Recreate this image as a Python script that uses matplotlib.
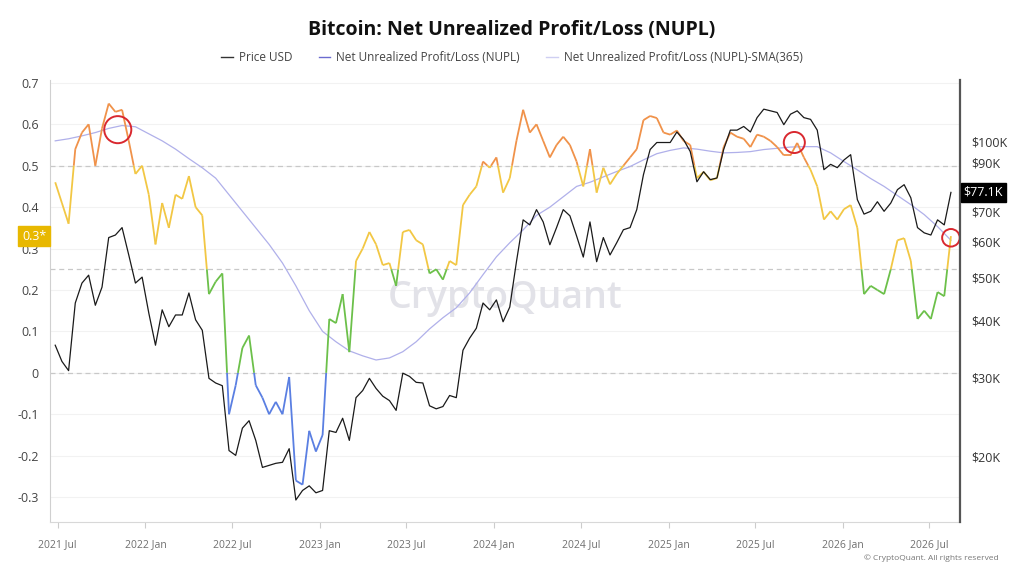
import numpy as np
import pandas as pd
import matplotlib
matplotlib.use("Agg")
import matplotlib.pyplot as plt
import matplotlib.dates as mdates
from matplotlib.collections import LineCollection
from matplotlib.lines import Line2D
from matplotlib.ticker import FixedLocator, FixedFormatter, NullLocator

plt.rcParams['font.family'] = ['Open Sans', 'DejaVu Sans']

# ---- data (14-day steps) ----
dates = pd.date_range("2021-06-26", periods=135, freq="14D")

nupl = [0.46, 0.41, 0.36, 0.54, 0.58, 0.60, 0.50, 0.59, 0.65, 0.63,
        0.635, 0.56, 0.48, 0.50, 0.43, 0.31, 0.41, 0.35, 0.43, 0.42,
        0.475, 0.40, 0.38, 0.19, 0.22, 0.24, -0.10, -0.03, 0.06, 0.09,
        -0.03, -0.06, -0.10, -0.07, -0.10, -0.01, -0.26, -0.27, -0.14, -0.19,
        -0.15, 0.13, 0.12, 0.19, 0.05, 0.27, 0.30, 0.34, 0.31, 0.26,
        0.265, 0.21, 0.34, 0.345, 0.32, 0.31, 0.24, 0.25, 0.225, 0.27,
        0.26, 0.405, 0.43, 0.45, 0.51, 0.495, 0.52, 0.435, 0.47, 0.56,
        0.635, 0.58, 0.60, 0.56, 0.52, 0.55, 0.57, 0.55, 0.51, 0.45,
        0.54, 0.435, 0.495, 0.455, 0.48, 0.50, 0.52, 0.54, 0.61, 0.62,
        0.615, 0.58, 0.575, 0.585, 0.56, 0.55, 0.47, 0.485, 0.465, 0.47,
        0.545, 0.58, 0.57, 0.565, 0.545, 0.575, 0.57, 0.56, 0.545, 0.525,
        0.525, 0.555, 0.52, 0.49, 0.45, 0.37, 0.39, 0.37, 0.395, 0.405,
        0.35, 0.19, 0.21, 0.20, 0.19, 0.25, 0.32, 0.325, 0.27, 0.13,
        0.15, 0.13, 0.195, 0.185, 0.33]

price_k = [35.3, 32.5, 31.0, 43.8, 48.5, 50.5, 43.3, 47.5, 61.2, 62.0,
           64.4, 56.0, 48.5, 50.0, 41.6, 35.3, 42.3, 38.8, 41.2, 41.2,
           46.1, 40.2, 38.1, 29.8, 29.1, 28.7, 20.6, 20.1, 23.1, 24.0,
           21.7, 18.9, 19.1, 19.3, 19.4, 20.8, 16.0, 16.8, 17.2, 16.6,
           16.8, 22.8, 22.6, 24.3, 21.7, 27.0, 28.0, 29.8, 28.3, 27.2,
           26.6, 25.3, 30.6, 30.1, 29.2, 29.1, 25.9, 25.5, 25.8, 27.3,
           27.0, 34.4, 36.6, 38.5, 43.8, 42.3, 44.5, 39.8, 42.9, 54.1,
           67.0, 65.3, 70.6, 66.3, 59.0, 64.4, 70.6, 68.4, 61.7, 55.4,
           66.3, 54.1, 61.2, 56.0, 59.6, 63.7, 64.4, 70.6, 84.4, 96.0,
           99.5, 99.5, 99.5, 105, 101, 95, 81.4, 85.7, 82.3, 83.0,
           96, 106, 106, 108, 105, 113, 118, 117, 116, 109,
           115, 117, 113, 112, 106, 86.6, 89, 87.5, 91, 93.5,
           74.3, 69, 70, 73.5, 70, 73, 78.2, 80.2, 75, 64.4,
           62.7, 62, 67, 65.3, 77.1]

sma_dates = pd.date_range("2021-06-26", periods=68, freq="28D")
sma = [0.56, 0.565, 0.572, 0.58, 0.59, 0.597, 0.594, 0.577, 0.56, 0.54,
       0.517, 0.495, 0.47, 0.43, 0.39, 0.35, 0.31, 0.265, 0.21, 0.15,
       0.10, 0.075, 0.053, 0.041, 0.031, 0.036, 0.051, 0.075, 0.106, 0.133,
       0.157, 0.193, 0.237, 0.28, 0.314, 0.345, 0.38, 0.40, 0.425, 0.45,
       0.46, 0.473, 0.486, 0.498, 0.514, 0.529, 0.537, 0.543, 0.54, 0.535,
       0.531, 0.532, 0.534, 0.539, 0.542, 0.545, 0.546, 0.546, 0.531, 0.51,
       0.49, 0.469, 0.45, 0.428, 0.406, 0.382, 0.353, 0.32]

# highlighted points (date, nupl)
circle_dates = pd.to_datetime(["2021-11-04", "2025-09-21", "2026-08-15"])
circle_vals = [0.587, 0.556, 0.326]
circle_sizes = [380, 230, 160]

levels = [0.0, 0.25, 0.5]
band_colors = ['#5a7fe2', '#6cc04a', '#f2c744', '#f0924a']

# $80K sits under the current-price tag, as in the original
price_ticks = [20000, 30000, 40000, 50000, 60000, 70000, 90000, 100000]
price_labels = ['$20K', '$30K', '$40K', '$50K', '$60K', '$70K', '$90K', '$100K']


def band_segments(xv, yv):
    segs, cols = [], []
    for k in range(len(xv) - 1):
        x0, y0, x1, y1 = xv[k], yv[k], xv[k + 1], yv[k + 1]
        pts = [(x0, y0)]
        ts = []
        for lv in levels:
            if (y0 - lv) * (y1 - lv) < 0:
                ts.append((lv - y0) / (y1 - y0))
        for t in sorted(ts):
            pts.append((x0 + t * (x1 - x0), y0 + t * (y1 - y0)))
        pts.append((x1, y1))
        for a, b in zip(pts[:-1], pts[1:]):
            mid = (a[1] + b[1]) / 2
            segs.append([a, b])
            cols.append(band_colors[int(np.searchsorted(levels, mid))])
    return segs, cols


fig = plt.figure(figsize=(10.24, 5.76), dpi=100)
ax = fig.add_axes([0.0488, 0.0938, 0.8887, 0.7674])
ax2 = ax.twinx()

xnum = mdates.date2num(dates)
segs, cols = band_segments(xnum, nupl)
ax.add_collection(LineCollection(segs, colors=cols, linewidths=1.3, zorder=3))
ax.plot(sma_dates, sma, color='#b0b0ea', lw=0.9, zorder=2)

for lv in levels:
    ax.axhline(lv, color='#c8c8c8', lw=0.9, ls=(0, (4, 3)), zorder=1)
for g in np.arange(-0.3, 0.71, 0.1):
    ax.axhline(g, color='#f2f2f2', lw=0.8, zorder=0)

ax.text(0.5, 0.507, 'CryptoQuant', transform=ax.transAxes, ha='center', va='center',
        fontsize=27, color='#e2e2e8', fontweight='semibold', zorder=0)

ax2.plot(dates, [p * 1000 for p in price_k], color='#1a1a1a', lw=0.9, zorder=4)
ax.scatter(circle_dates, circle_vals, s=circle_sizes, facecolors='none',
           edgecolors='#d9282f', linewidths=1.4, zorder=6)

ax.set_xlim(pd.Timestamp("2021-06-15"), pd.Timestamp("2026-09-03"))
ax.set_ylim(-0.36, 0.707)
ax.set_yticks([-0.3, -0.2, -0.1, 0, 0.1, 0.2, 0.3, 0.4, 0.5, 0.6, 0.7])
ax.set_yticklabels(['-0.3', '-0.2', '-0.1', '0', '0.1', '0.2', '0.3', '0.4', '0.5', '0.6', '0.7'])
ax.tick_params(axis='y', length=0, labelsize=9, colors='#444444', pad=8)

ax.xaxis.set_major_locator(mdates.MonthLocator(bymonth=[1, 7]))
ax.xaxis.set_major_formatter(mdates.DateFormatter('%Y %b'))
ax.tick_params(axis='x', length=4, color='#cccccc', labelsize=7.5, labelcolor='#6f6f6f', pad=8)

ax2.set_yscale('log')
ax2.set_ylim(14300, 137000)
ax2.yaxis.set_major_locator(FixedLocator(price_ticks))
ax2.yaxis.set_major_formatter(FixedFormatter(price_labels))
ax2.yaxis.set_minor_locator(NullLocator())
ax2.tick_params(axis='y', length=0, labelsize=9, colors='#333333', pad=8)

for a in (ax, ax2):
    a.spines['top'].set_visible(False)
ax.spines['left'].set_color('#d0d0d0')
ax.spines['bottom'].set_color('#d8d8d8')
ax2.spines['left'].set_visible(False)
ax2.spines['bottom'].set_visible(False)
ax2.spines['right'].set_color('#555555')
ax2.spines['right'].set_linewidth(1.6)
ax.spines['right'].set_visible(False)

# current value tags
ax2.text(1.004, price_k[-1] * 1000, '$77.1K', transform=ax2.get_yaxis_transform(),
         ha='left', va='center', fontsize=9, color='white', zorder=10,
         bbox=dict(boxstyle='square,pad=0.25', fc='black', ec='black'))
ax.text(-0.004, nupl[-1], '0.3*', transform=ax.get_yaxis_transform(),
        ha='right', va='center', fontsize=9, color='white', zorder=10,
        bbox=dict(boxstyle='square,pad=0.3', fc='#e8b800', ec='#e8b800'), clip_on=False)

fig.text(0.5, 0.948, 'Bitcoin: Net Unrealized Profit/Loss (NUPL)', ha='center', va='center',
         fontsize=14, fontweight='bold', color='#111111')

handles = [Line2D([], [], color='#333333', lw=1),
           Line2D([], [], color='#6b6bd0', lw=1),
           Line2D([], [], color='#cfcff2', lw=1)]
fig.legend(handles, ['Price USD', 'Net Unrealized Profit/Loss (NUPL)',
                     'Net Unrealized Profit/Loss (NUPL)-SMA(365)'],
           loc='center', bbox_to_anchor=(0.5, 0.9), ncol=3, frameon=False,
           fontsize=8.5, handlelength=1.0, handletextpad=0.5, columnspacing=2.2,
           labelcolor='#444444')

fig.text(0.975, 0.031, '\u00a9 CryptoQuant. All rights reserved', ha='right', va='center',
         fontsize=6, color='#777777')

fig.savefig('out.png', dpi=100)
